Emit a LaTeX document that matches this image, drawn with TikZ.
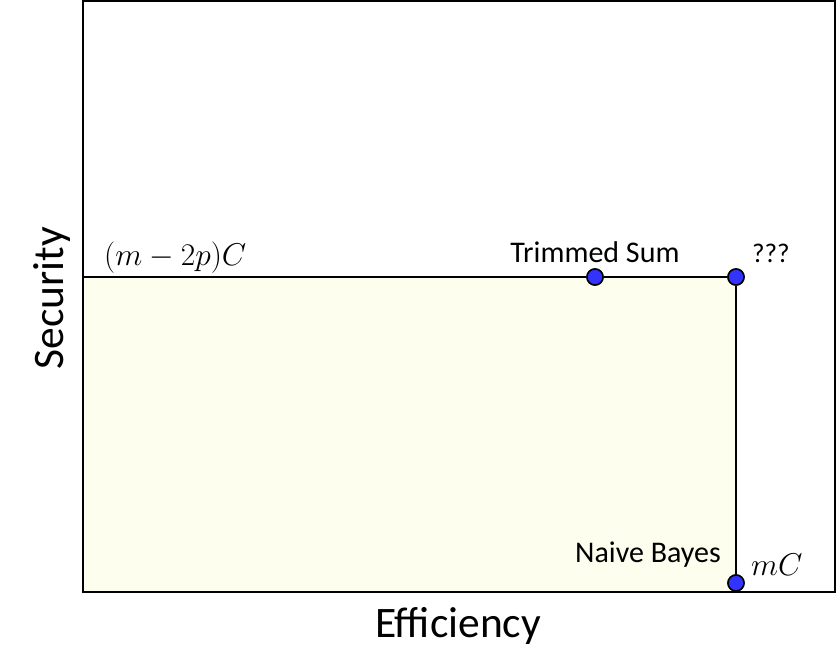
\RequirePackage{fix-cm}
\documentclass[tikz,border=0pt]{standalone}
\usepackage{fontspec}
\setmainfont{Carlito}
\definecolor{fillyellow}{RGB}{253,254,238}
\definecolor{dotblue}{RGB}{51,51,255}
\begin{document}
\begin{tikzpicture}[x=1pt,y=-1pt,
  dot/.style={circle,draw=black,fill=dotblue,line width=1.5pt,minimum size=16pt,inner sep=0pt},
  lbl/.style={font=\fontsize{30}{34}\selectfont,inner sep=0pt},
  mathlbl/.style={font=\fontsize{31.5}{36}\selectfont,inner sep=0pt},
  axis/.style={font=\fontsize{43.5}{48}\selectfont,inner sep=0pt}]
\useasboundingbox (0,0) rectangle (836,662);
\fill[fillyellow] (83,277) rectangle (736,592);
\draw[line width=2.2pt] (83,1) rectangle (835,592);
\coordinate (left) at (83,277);
\node[dot] (ts) at (595,277) {};
\node[dot] (q) at (736,277) {};
\node[dot] (nb) at (736,583) {};
\draw[line width=2.2pt] (left) -- (ts) -- (q) -- (nb);
\node[dot] at (595,277) {};
\node[dot] at (736,277) {};
\node[dot] at (736,583) {};
\node[lbl,anchor=base] (tst) at (595,262) {Trimmed Sum};
\node[lbl,anchor=base west,font=\fontsize{27}{30}\selectfont] (qt) at (752,262) {???};
\node[lbl,anchor=base east] (nbt) at (721,562) {Naive Bayes};
\node[mathlbl,anchor=base west] (mc) at (751,575) {$mC$};
\node[mathlbl,anchor=base west] (m2p) at (104,265) {$(m-2p)C$};
\node[axis,anchor=base] (eff) at (458,637) {Efficiency};
\node[axis,anchor=base,rotate=90] (sec) at (63,298) {Security};
\end{tikzpicture}
\end{document}
